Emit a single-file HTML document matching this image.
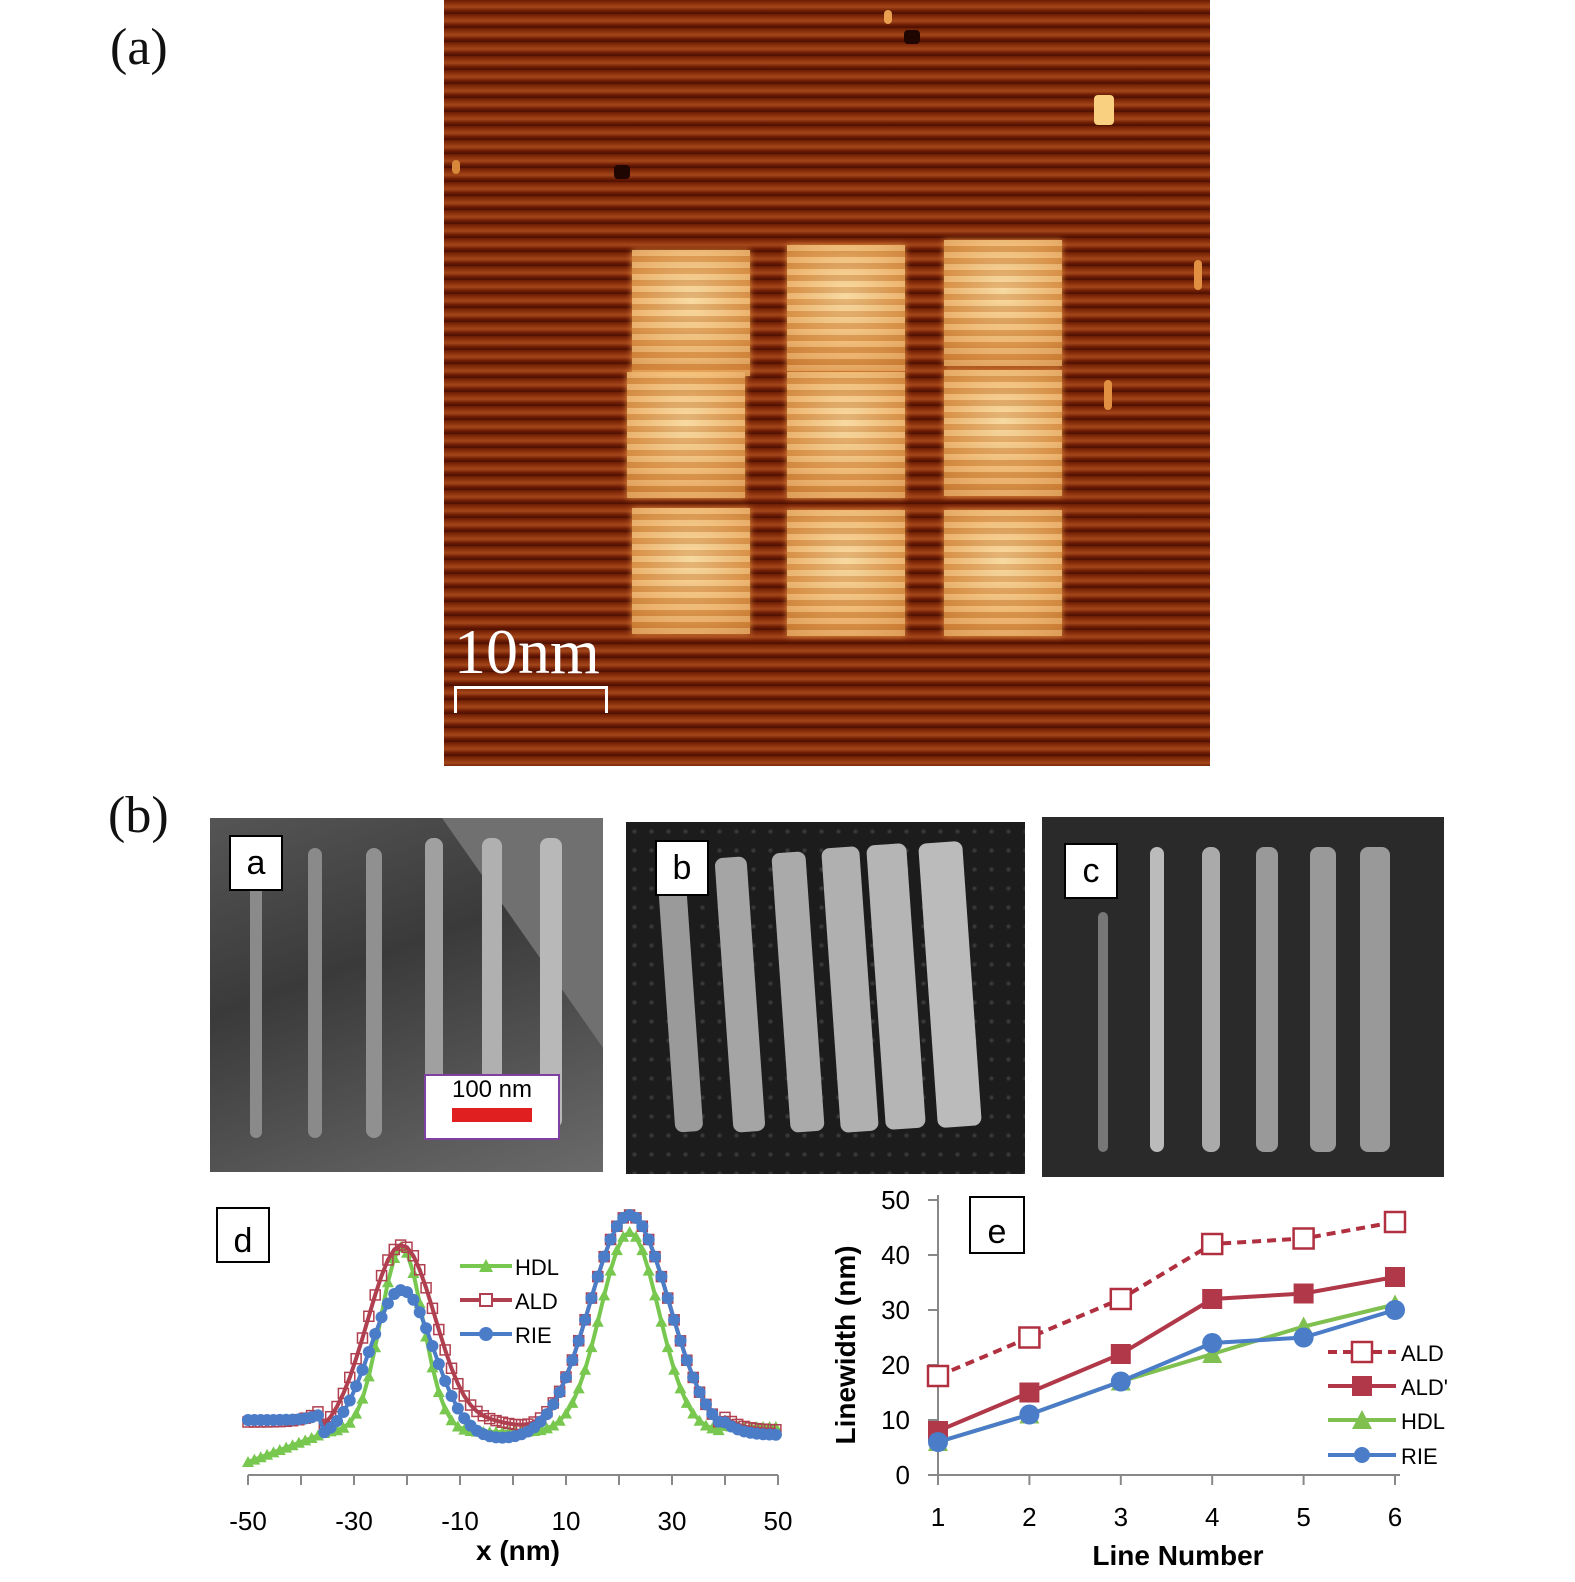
<!DOCTYPE html>
<html><head><meta charset="utf-8"><style>
body{margin:0;background:#fff;width:1575px;height:1582px;position:relative;overflow:hidden;font-family:"Liberation Sans",sans-serif}
.lbl{position:absolute;font-family:"Liberation Serif",serif;font-size:52px;color:#111}
#stm{position:absolute;left:444px;top:0;width:766px;height:766px;background:repeating-linear-gradient(180deg,#6a1c04 0px,#8f3410 4px,#a4461a 7px,#6a1a04 11px,#4a1002 14px)}
.sq{position:absolute;width:118px;height:126px;background:radial-gradient(circle at 50% 40%,#ffe0a0,#f0b060 55%,#d88838);box-shadow:0 0 6px #e09040;opacity:.95}
.sq::after{content:"";position:absolute;inset:0;background:repeating-linear-gradient(180deg,rgba(255,240,200,.25) 0 6px,rgba(170,90,30,.25) 6px 12px)}
.img{position:absolute}
.box{position:absolute;background:#fff;border:2px solid #000;font-size:34px;text-align:center}
.line{position:absolute;border-radius:8px}
.dot{position:absolute;width:8px;height:14px;border-radius:4px}
</style></head><body>
<div class="lbl" style="left:110px;top:18px">(a)</div>
<div class="lbl" style="left:108px;top:786px">(b)</div>
<div id="stm">
<div class="dot" style="left:440px;top:10px;background:#e8a050"></div>
<div class="dot" style="left:650px;top:95px;width:20px;height:30px;background:#f8d080"></div>
<div class="dot" style="left:8px;top:160px;background:#d88838"></div>
<div class="dot" style="left:170px;top:165px;width:16px;background:#200600"></div>
<div class="dot" style="left:460px;top:30px;width:16px;background:#200600"></div>
<div class="dot" style="left:750px;top:260px;height:30px;background:#e09040"></div>
<div class="dot" style="left:660px;top:380px;height:30px;background:#e09040"></div>
<div class="sq" style="left:188px;top:250px"></div><div class="sq" style="left:343px;top:245px"></div><div class="sq" style="left:500px;top:240px"></div>
<div class="sq" style="left:183px;top:372px"></div><div class="sq" style="left:343px;top:372px"></div><div class="sq" style="left:500px;top:370px"></div>
<div class="sq" style="left:188px;top:508px"></div><div class="sq" style="left:343px;top:510px"></div><div class="sq" style="left:500px;top:510px"></div>
<div style="position:absolute;left:10px;top:615px;font-family:'Liberation Serif',serif;font-size:64px;color:#fff">10nm</div>
<div style="position:absolute;left:10px;top:686px;width:148px;height:24px;border:3px solid #fff;border-bottom:none"></div>
</div>
<div class="img" style="left:210px;top:818px;width:393px;height:354px;background:linear-gradient(160deg,#555,#3a3a3a 40%,#4a4a4a 60%,#6a6a6a);overflow:hidden">
<div style="position:absolute;left:190px;top:-60px;width:300px;height:500px;background:#707070;transform:rotate(-35deg);transform-origin:0 0"></div>
<div class="line" style="left:40px;top:30px;width:12px;height:290px;background:#8a8a8a"></div>
<div class="line" style="left:98px;top:30px;width:14px;height:290px;background:#8a8a8a"></div>
<div class="line" style="left:156px;top:30px;width:16px;height:290px;background:#909090"></div>
<div class="line" style="left:215px;top:20px;width:18px;height:290px;background:#a0a0a0"></div>
<div class="line" style="left:272px;top:20px;width:20px;height:290px;background:#b0b0b0"></div>
<div class="line" style="left:330px;top:20px;width:22px;height:290px;background:#b8b8b8"></div>
<div style="position:absolute;left:214px;top:256px;width:132px;height:62px;background:#fff;border:2px solid #8040a0;font-size:24px;text-align:center">100 nm<div style="margin:4px auto;width:80px;height:14px;background:#e02020"></div></div>
</div>
<div class="box" style="left:229px;top:835px;width:50px;height:52px;line-height:52px">a</div>
<div class="img" style="left:626px;top:822px;width:399px;height:352px;background:radial-gradient(circle,#3a3a3a 1px,transparent 3px) 0 0/17px 19px,#1c1c1c">
<div class="line" style="left:40px;top:40px;width:28px;height:270px;background:#9a9a9a;transform:rotate(-4deg)"></div>
<div class="line" style="left:98px;top:35px;width:32px;height:275px;background:#a5a5a5;transform:rotate(-4deg)"></div>
<div class="line" style="left:155px;top:30px;width:34px;height:280px;background:#aaa;transform:rotate(-4deg)"></div>
<div class="line" style="left:205px;top:25px;width:38px;height:285px;background:#b0b0b0;transform:rotate(-4deg)"></div>
<div class="line" style="left:250px;top:22px;width:40px;height:285px;background:#b5b5b5;transform:rotate(-4deg)"></div>
<div class="line" style="left:302px;top:20px;width:44px;height:285px;background:#bbb;transform:rotate(-4deg)"></div>
</div>
<div class="box" style="left:655px;top:840px;width:50px;height:52px;line-height:52px">b</div>
<div class="img" style="left:1042px;top:817px;width:402px;height:360px;background:#2a2a2a">
<div class="line" style="left:56px;top:95px;width:10px;height:240px;background:#777"></div>
<div class="line" style="left:108px;top:30px;width:14px;height:305px;background:#bbb"></div>
<div class="line" style="left:160px;top:30px;width:18px;height:305px;background:#aaa"></div>
<div class="line" style="left:214px;top:30px;width:22px;height:305px;background:#999"></div>
<div class="line" style="left:268px;top:30px;width:26px;height:305px;background:#999"></div>
<div class="line" style="left:318px;top:30px;width:30px;height:305px;background:#999"></div>
</div>
<div class="box" style="left:1064px;top:843px;width:50px;height:52px;line-height:52px">c</div>
<svg id="sv" width="1575" height="1582" style="position:absolute;left:0;top:0" font-family="Liberation Sans, sans-serif"></svg>
<script>
const sv=document.getElementById('sv');let h='';
h+='<rect x="217" y="1208" width="52" height="54" fill="#fff" stroke="#000" stroke-width="2"/><text x="243" y="1252" font-size="34" text-anchor="middle">d</text>';
h+='<line x1="248" y1="1475" x2="778" y2="1475" stroke="#888" stroke-width="2"/>';
[-50,-30,-10,10,30,50].forEach(v=>{const x=248+(v+50)*5.3;h+=`<line x1="${x}" y1="1475" x2="${x}" y2="1485" stroke="#888" stroke-width="2"/><text x="${x}" y="1530" font-size="26" text-anchor="middle">${v}</text>`});
for(let v=-40;v<=40;v+=20){const x=248+(v+50)*5.3;h+=`<line x1="${x}" y1="1475" x2="${x}" y2="1485" stroke="#888" stroke-width="2"/>`}
h+='<text x="518" y="1560" font-size="28" font-weight="bold" text-anchor="middle">x (nm)</text>';
const g=(x,m,s)=>Math.exp(-((x-m)**2)/(2*s*s));
function curve(f,col,mk){let pts=[];for(let v=-50;v<=50;v+=1.2){pts.push([248+(v+50)*5.3,f(v)])}
h+=`<polyline points="${pts.map(p=>p[0].toFixed(1)+','+p[1].toFixed(1)).join(' ')}" fill="none" stroke="${col}" stroke-width="4"/>`;
pts.forEach(p=>{if(mk=='s')h+=`<rect x="${p[0]-5}" y="${p[1]-5}" width="10" height="10" fill="none" stroke="${col}" stroke-width="1.5"/>`;else if(mk=='c')h+=`<circle cx="${p[0]}" cy="${p[1]}" r="6" fill="${col}"/>`;else h+=`<path d="M${p[0]-6},${p[1]+5}L${p[0]+6},${p[1]+5}L${p[0]},${p[1]-6}Z" fill="${col}"/>`})}
curve(v=>(v<-35?1432+(-35-v)*2:1432)+(v>40?-5:0)-185*g(v,-21,4)-200*g(v,22,5.5),'#78c850','t');
curve(v=>1440-195*g(v,-21,6.5)-225*g(v,22,7.5)-14*g(v,-3,5)+(v<-36?-18:0)+(v>40?-10:0),'#b04050','s');
curve(v=>1440-150*g(v,-21,6)-225*g(v,22,7.5)+(v<-36?-20*(1-g(v,-50,20)*0)+0:0)-(v<-36?0:0)+(v>40?-5:0),'#4a7cc8','c');
[['HDL','#78c850','t',1266],['ALD','#b04050','s',1300],['RIE','#4a7cc8','c',1334]].forEach(([n,c,m,y])=>{h+=`<line x1="460" y1="${y}" x2="512" y2="${y}" stroke="${c}" stroke-width="4"/>`;
if(m=='s')h+=`<rect x="480" y="${y-6}" width="12" height="12" fill="#fff" stroke="${c}" stroke-width="2"/>`;else if(m=='c')h+=`<circle cx="486" cy="${y}" r="7" fill="${c}"/>`;else h+=`<path d="M479,${y+6}L493,${y+6}L486,${y-7}Z" fill="${c}"/>`;
h+=`<text x="515" y="${y+9}" font-size="22">${n}</text>`});
const X=i=>938+(i-1)*91.4,Y=v=>1475-v*5.5;
h+='<line x1="938" y1="1195" x2="938" y2="1475" stroke="#888" stroke-width="2"/><line x1="938" y1="1475" x2="1400" y2="1475" stroke="#888" stroke-width="2"/>';
for(let v=0;v<=50;v+=10)h+=`<line x1="928" y1="${Y(v)}" x2="938" y2="${Y(v)}" stroke="#888" stroke-width="2"/><text x="910" y="${Y(v)+9}" font-size="26" text-anchor="end">${v}</text>`;
for(let i=1;i<=6;i++)h+=`<line x1="${X(i)}" y1="1475" x2="${X(i)}" y2="1485" stroke="#888" stroke-width="2"/><text x="${X(i)}" y="1526" font-size="26" text-anchor="middle">${i}</text>`;
h+='<text x="1178" y="1565" font-size="28" font-weight="bold" text-anchor="middle">Line Number</text>';
h+='<text transform="translate(855,1345) rotate(-90)" font-size="28" font-weight="bold" text-anchor="middle">Linewidth (nm)</text>';
h+='<rect x="970" y="1197" width="54" height="56" fill="#fff" stroke="#000" stroke-width="2"/><text x="997" y="1243" font-size="34" text-anchor="middle">e</text>';
const S=[['ALD','#b03040',[18,25,32,42,43,46],'os',1352,'9,6'],['ALD\'','#b03848',[8,15,22,32,33,36],'s',1386,''],['HDL','#80c050',[6,11,17,22,27,31],'t',1420,''],['RIE','#4a7cc8',[6,11,17,24,25,30],'c',1455,'']];
S.forEach(([n,c,d,m,ly,da])=>{h+=`<polyline points="${d.map((v,i)=>X(i+1)+','+Y(v)).join(' ')}" fill="none" stroke="${c}" stroke-width="4" stroke-dasharray="${da}"/>`;
const mk=(x,y)=>m=='os'?`<rect x="${x-10}" y="${y-10}" width="20" height="20" fill="#fff" stroke="${c}" stroke-width="2.5"/>`:m=='s'?`<rect x="${x-10}" y="${y-10}" width="20" height="20" fill="${c}"/>`:m=='c'?`<circle cx="${x}" cy="${y}" r="10" fill="${c}"/>`:`<path d="M${x-10},${y+9}L${x+10},${y+9}L${x},${y-10}Z" fill="${c}"/>`;
d.forEach((v,i)=>h+=mk(X(i+1),Y(v)));
h+=`<line x1="1328" y1="${ly}" x2="1396" y2="${ly}" stroke="${c}" stroke-width="4" stroke-dasharray="${da}"/>`+mk(1362,ly).replace(/r="10"/,'r="8"')+`<text x="1401" y="${ly+9}" font-size="22">${n}</text>`});
sv.innerHTML=h;
</script>
</body></html>
